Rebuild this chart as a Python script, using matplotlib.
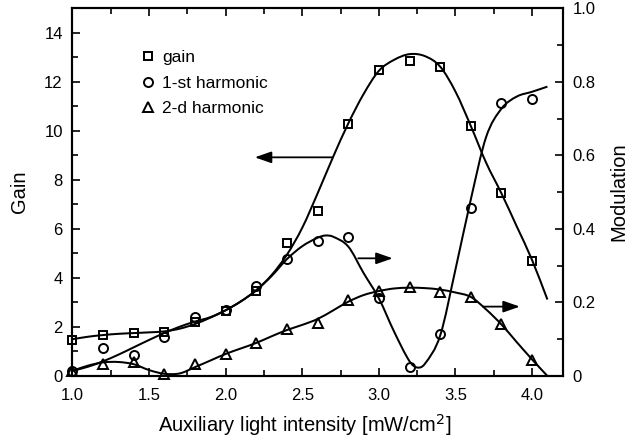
import numpy as np
import matplotlib
matplotlib.use("Agg")
import matplotlib.pyplot as plt
from matplotlib.path import Path
from matplotlib.patches import PathPatch
from matplotlib.lines import Line2D
from matplotlib.ticker import MultipleLocator, FixedLocator, FixedFormatter

plt.rcParams['font.family'] = ['Liberation Sans', 'DejaVu Sans']

# measured points
intensity = [1.0, 1.2, 1.4, 1.6, 1.8, 2.0, 2.2, 2.4, 2.6, 2.8, 3.0, 3.2, 3.4, 3.6, 3.8, 4.0]
gain = [1.47, 1.67, 1.77, 1.81, 2.19, 2.66, 3.47, 5.42, 6.74, 10.3, 12.49, 12.83, 12.62, 10.18, 7.46, 4.70]
harm1 = [0.014, 0.075, 0.057, 0.107, 0.16, 0.18, 0.245, 0.318, 0.368, 0.377, 0.212, 0.025, 0.114, 0.456, 0.742, 0.753]
harm2 = [0.014, 0.032, 0.037, 0.005, 0.032, 0.06, 0.089, 0.128, 0.143, 0.206, 0.231, 0.241, 0.229, 0.214, 0.141, 0.044]

# fitted curves
gain_fit_x = [1.0, 1.1, 1.2, 1.3, 1.4, 1.5, 1.6, 1.7, 1.8, 1.9, 2.0, 2.1, 2.2, 2.3, 2.4, 2.5,
              2.6, 2.7, 2.8, 2.9, 3.0, 3.1, 3.2, 3.3, 3.4, 3.5, 3.6, 3.7, 3.8, 3.9, 4.0, 4.1]
gain_fit = [1.5, 1.6, 1.67, 1.72, 1.75, 1.78, 1.82, 1.93, 2.12, 2.38, 2.68, 3.05, 3.5, 4.12, 4.95, 6.05,
            7.45, 8.92, 10.3, 11.5, 12.45, 12.9, 13.13, 13.05, 12.62, 11.6, 10.2, 8.7, 7.45, 6.1, 4.73, 3.12]

h1_fit_x = [1.0, 1.1, 1.2, 1.3, 1.4, 1.5, 1.6, 1.7, 1.8, 1.9, 2.0, 2.1, 2.2, 2.3, 2.4, 2.5, 2.6, 2.65,
            2.7, 2.8, 2.9, 3.0, 3.1, 3.2, 3.25, 3.3, 3.4, 3.5, 3.6, 3.7, 3.8, 3.9, 4.0, 4.1]
h1_fit = [0.014, 0.025, 0.04, 0.058, 0.078, 0.098, 0.117, 0.134, 0.148, 0.16, 0.179, 0.203, 0.233, 0.272,
          0.318, 0.353, 0.376, 0.382, 0.379, 0.352, 0.28, 0.211, 0.12, 0.04, 0.023, 0.033, 0.11, 0.29,
          0.48, 0.65, 0.727, 0.76, 0.773, 0.787]

h2_fit_x = [1.0, 1.1, 1.2, 1.3, 1.4, 1.5, 1.6, 1.7, 1.8, 1.9, 2.0, 2.1, 2.2, 2.3, 2.4, 2.5,
            2.6, 2.7, 2.8, 2.9, 3.0, 3.1, 3.2, 3.3, 3.4, 3.5, 3.6, 3.7, 3.8, 3.9, 4.0, 4.1]
h2_fit = [0.014, 0.028, 0.037, 0.038, 0.032, 0.016, 0.006, 0.007, 0.024, 0.042, 0.06, 0.075, 0.09, 0.108,
          0.125, 0.139, 0.155, 0.178, 0.202, 0.22, 0.231, 0.238, 0.24, 0.239, 0.235, 0.227, 0.215, 0.181,
          0.14, 0.092, 0.045, 0.0]

labels = ["gain", "1-st harmonic", "2-d harmonic"]

# arrows (tail x, head x, y in gain units)
arrow_tail = [2.70, 2.865, 3.68]
arrow_head = [2.19, 3.09, 3.92]
arrow_y = [8.92, 4.80, 2.83]

x_ticks = [1.0, 1.5, 2.0, 2.5, 3.0, 3.5, 4.0]
gain_ticks = [0, 2, 4, 6, 8, 10, 12, 14]
mod_ticks = [0, 0.2, 0.4, 0.6, 0.8, 1.0]
mod_ticklabels = ["0", "0.2", "0.4", "0.6", "0.8", "1.0"]


def smooth_path(xs, ys):
    xs = np.asarray(xs, float)
    ys = np.asarray(ys, float)
    n = len(xs)
    m = np.empty(n)
    m[0] = (ys[1] - ys[0]) / (xs[1] - xs[0])
    m[-1] = (ys[-1] - ys[-2]) / (xs[-1] - xs[-2])
    m[1:-1] = (ys[2:] - ys[:-2]) / (xs[2:] - xs[:-2])
    verts = [(xs[0], ys[0])]
    codes = [Path.MOVETO]
    for i in range(n - 1):
        h = xs[i + 1] - xs[i]
        verts += [(xs[i] + h / 3, ys[i] + m[i] * h / 3),
                  (xs[i + 1] - h / 3, ys[i + 1] - m[i + 1] * h / 3),
                  (xs[i + 1], ys[i + 1])]
        codes += [Path.CURVE4] * 3
    return Path(verts, codes)


fig = plt.figure(figsize=(6.37, 4.44), dpi=100)
ax = fig.add_axes([0.1138, 0.1532, 0.7696, 0.8281])
ax2 = ax.twinx()

lw = 1.45
fs = 12
lfs = 14.5
mew = 1.4

ax.add_patch(PathPatch(smooth_path(gain_fit_x, gain_fit), fill=False, ec='black', lw=lw,
                       transform=ax.transData))
ax2.add_patch(PathPatch(smooth_path(h1_fit_x, h1_fit), fill=False, ec='black', lw=lw,
                        transform=ax2.transData))
ax2.add_patch(PathPatch(smooth_path(h2_fit_x, h2_fit), fill=False, ec='black', lw=lw,
                        transform=ax2.transData))

mk = dict(linestyle='none', mfc='none', mec='black', mew=mew, clip_on=False)
ax.plot(intensity, gain, marker='s', ms=6.0, **mk)
ax2.plot(intensity, harm1, marker='o', ms=6.5, **mk)
ax2.plot(intensity, harm2, marker='^', ms=7.0, **mk)

for t, h, y in zip(arrow_tail, arrow_head, arrow_y):
    ax.annotate("", xy=(h, y), xytext=(t, y), xycoords='data', textcoords='data',
                arrowprops=dict(arrowstyle='-|>,head_length=1.0,head_width=0.35',
                                color='black', lw=1.3, shrinkA=0, shrinkB=0))

ax.set_xlim(1.0, 4.2)
ax.set_ylim(0, 15)
ax2.set_ylim(0, 1.0)

ax.xaxis.set_major_locator(FixedLocator(x_ticks))
ax.xaxis.set_minor_locator(MultipleLocator(0.25))
ax.yaxis.set_major_locator(FixedLocator(gain_ticks))
ax.yaxis.set_minor_locator(MultipleLocator(1))
ax2.yaxis.set_major_locator(FixedLocator(mod_ticks))
ax2.yaxis.set_major_formatter(FixedFormatter(mod_ticklabels))
ax2.yaxis.set_minor_locator(MultipleLocator(0.1))
ax.set_xticklabels([f"{v:.1f}" for v in x_ticks])

ax.tick_params(axis='x', which='both', direction='in', top=True, bottom=True, labelsize=fs, pad=9)
ax.tick_params(axis='y', which='both', direction='in', left=True, right=False, labelsize=fs, pad=7)
ax2.tick_params(axis='y', which='both', direction='in', right=True, labelsize=fs, pad=7)
for a in (ax, ax2):
    a.tick_params(which='major', length=6, width=1.2)
    a.tick_params(which='minor', length=4, width=1.2)
    for s in a.spines.values():
        s.set_linewidth(1.5)

ax.set_xlabel("Auxiliary light intensity [mW/cm$^{2}$]", fontsize=lfs)
ax.xaxis.set_label_coords(0.474, -0.097)
ax.set_ylabel("Gain", fontsize=lfs, labelpad=11)
ax2.set_ylabel("Modulation", fontsize=lfs, labelpad=10)

handles = [Line2D([], [], marker='s', ms=6.0, ls='none', mfc='none', mec='black', mew=mew),
           Line2D([], [], marker='o', ms=6.5, ls='none', mfc='none', mec='black', mew=mew),
           Line2D([], [], marker='^', ms=7.0, ls='none', mfc='none', mec='black', mew=mew)]
ax2.legend(handles, labels, loc='upper left', bbox_to_anchor=(0.118, 0.91), frameon=False,
           fontsize=12.5, handlelength=1.0, handletextpad=0.35, labelspacing=0.6, borderpad=0)

fig.savefig("out.png", dpi=100)
